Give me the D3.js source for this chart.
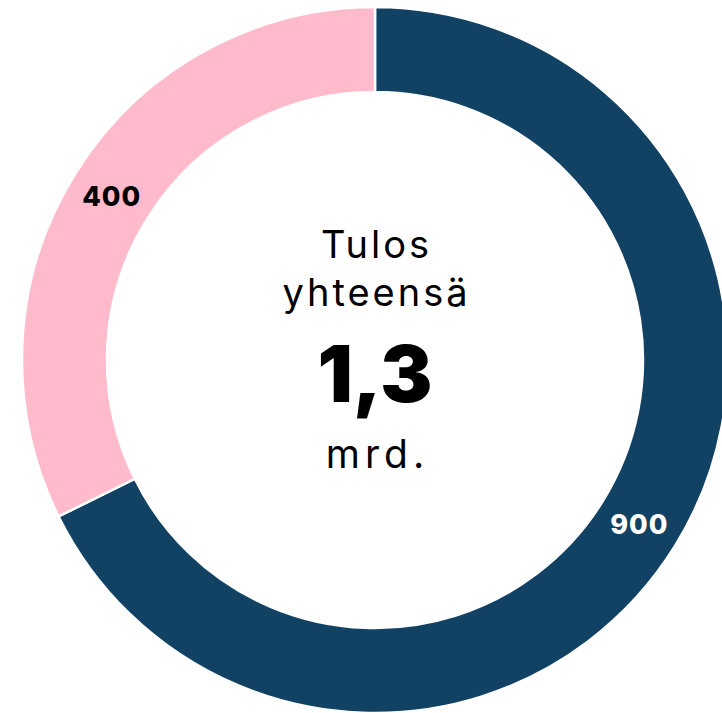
<html>

<head>
    <meta charset="UTF-8">
    <script src="https://d3js.org/d3.v7.min.js"></script>
    <title>Tulos yhteensä</title>
    <style>
        body { margin: 0; background: #fff; }
        text { font-family: Inter, "Open Sans", sans-serif; }
    </style>
</head>

<body>
    <svg width="722" height="713"></svg>

    <script>
        // data (milj. €)
        const categories = ['A', 'B'];
        const values = [880, 420];
        const colors = ['#124263', '#ffbbcc'];
        const labelColors = ['#ffffff', '#000000'];
        const centerLines = ['Tulos', 'yhteensä'];
        const totalText = '1,3';
        const unitText = 'mrd.';

        const svg = d3.select('svg');
        const g = svg.append('g').attr('transform', 'translate(375, 360)');

        const pie = d3.pie().sort(null).value(d => d.value);
        const arc = d3.arc().innerRadius(268).outerRadius(353);

        const data = categories.map((c, i) => ({ name: c, value: values[i], i: i }));

        g.selectAll('path')
            .data(pie(data))
            .join('path')
            .attr('d', arc)
            .attr('fill', d => colors[d.data.i])
            .attr('stroke', '#fff')
            .attr('stroke-width', 2.5);

        // arvot pyöristettynä sataan
        g.selectAll('text.lbl')
            .data(pie(data))
            .join('text')
            .attr('class', 'lbl')
            .attr('transform', d => 'translate(' + arc.centroid(d) + ')')
            .attr('text-anchor', 'middle')
            .attr('dx', 0.5)
            .attr('dy', '0.36em')
            .style('font-size', '27px')
            .style('font-weight', 800)
            .style('letter-spacing', '1px')
            .style('fill', d => labelColors[d.data.i])
            .text(d => Math.round(d.data.value / 100) * 100);

        // keskiteksti
        g.selectAll('text.title')
            .data(centerLines)
            .join('text')
            .attr('class', 'title')
            .attr('text-anchor', 'middle')
            .attr('dx', 1.5)
            .attr('y', (d, i) => -102 + i * 48)
            .style('font-size', '38px')
            .style('font-weight', 400)
            .style('letter-spacing', '3px')
            .style('fill', '#000')
            .text(d => d);

        g.append('text')
            .attr('text-anchor', 'middle')
            .attr('y', 42)
            .style('font-size', '78px')
            .style('font-weight', 900)
            .style('fill', '#000')
            .text(totalText);

        g.append('text')
            .attr('text-anchor', 'middle')
            .attr('dx', 2.5)
            .attr('y', 108)
            .style('font-size', '39px')
            .style('font-weight', 400)
            .style('letter-spacing', '5px')
            .style('fill', '#000')
            .text(unitText);
    </script>
</body>

</html>
